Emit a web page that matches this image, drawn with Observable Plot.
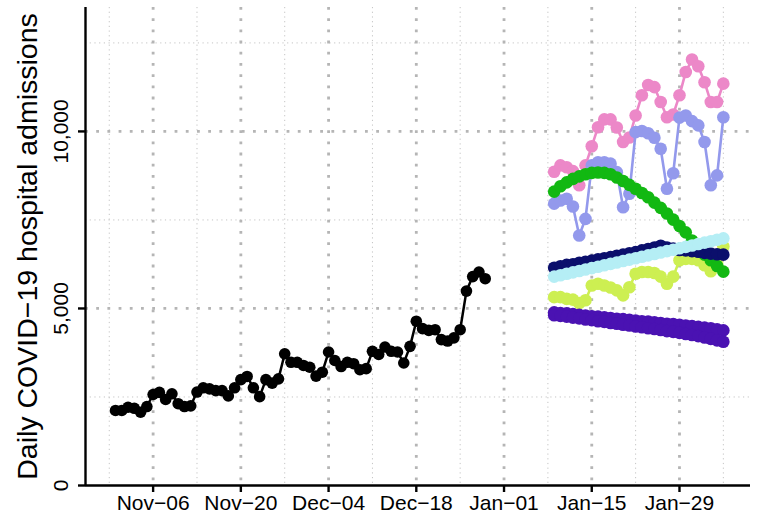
<!DOCTYPE html>
<html>
<head>
<meta charset="utf-8">
<script src="https://cdn.jsdelivr.net/npm/d3@7"></script>
<script src="https://cdn.jsdelivr.net/npm/@observablehq/plot@0.6"></script>
<style>
  body { margin: 0; background: #fff; }
  #chart svg { font-family: "Liberation Sans", Arial, Helvetica, sans-serif; }
</style>
</head>
<body>
<div id="chart"></div>
<script>
// ---------- data ----------
const observedStart = "2020-10-31";
const observed = [
  2120, 2120, 2210, 2180, 2070, 2230, 2570, 2630, 2430, 2590,
  2310, 2230, 2250, 2640, 2760, 2730, 2680, 2680, 2530, 2760,
  2990, 3080, 2760, 2510, 2990, 2890, 3010, 3720, 3480, 3480,
  3390, 3340, 3090, 3200, 3770, 3530, 3360, 3480, 3440, 3270,
  3300, 3790, 3700, 3910, 3790, 3770, 3460, 3930, 4640, 4430,
  4380, 4400, 4120, 4080, 4170, 4400, 5490, 5900, 6030, 5840
];

const forecastStart = "2021-01-09";
const fcYellow = [
  5320, 5320, 5270, 5250, 5150, 5230, 5650, 5700, 5650, 5590,
  5510, 5370, 5600, 5980, 6030, 6030, 6000, 5900, 5700, 5900,
  6360, 6400, 6400, 6360, 6220, 6050, 6260, 6750
];
const fcPink = [
  8860, 9040, 8990, 8880, 8480, 9040, 9580, 10120, 10340, 10340,
  10110, 9700, 9830, 10450, 11020, 11310, 11250, 10830, 10400, 10480,
  11020, 11680, 12030, 11840, 11390, 10830, 10830, 11350
];
const fcPeriwinkle = [
  7960, 8050, 8100, 7880, 7060, 7530, 9040, 9130, 9130, 9090,
  8850, 7860, 8240, 9980, 10010, 9950, 9820, 9510, 8380, 8820,
  10390, 10450, 10290, 10170, 9700, 8480, 8760, 10400
];
const fcGreen = [
  8300, 8450, 8560, 8660, 8730, 8790, 8830, 8840, 8830, 8790,
  8700, 8600, 8490, 8380, 8260, 8140, 7990, 7840, 7680, 7510,
  7330, 7150, 6920, 6720, 6520, 6360, 6200, 6040
];
const fcNavy = [
  6150, 6190, 6230, 6250, 6290, 6320, 6350, 6390, 6420, 6450,
  6490, 6520, 6560, 6590, 6640, 6680, 6720, 6770, 6720, 6690,
  6650, 6640, 6620, 6600, 6570, 6550, 6530, 6520
];
const fcCyan = [
  5900, 5940, 5980, 6020, 6060, 6100, 6140, 6180, 6220, 6260,
  6300, 6340, 6380, 6420, 6460, 6500, 6540, 6580, 6620, 6660,
  6700, 6740, 6780, 6820, 6860, 6900, 6940, 6980
];
const fcPurpleA = [
  4890, 4870, 4860, 4840, 4820, 4800, 4780, 4770, 4750, 4730,
  4710, 4700, 4680, 4660, 4640, 4630, 4610, 4590, 4570, 4560,
  4540, 4520, 4500, 4480, 4460, 4440, 4410, 4380
];
const fcPurpleB = [
  4810, 4790, 4770, 4740, 4720, 4690, 4670, 4640, 4620, 4590,
  4570, 4540, 4520, 4490, 4470, 4440, 4420, 4390, 4360, 4340,
  4310, 4280, 4250, 4220, 4180, 4140, 4100, 4060
];

const xTickDates = ["2020-11-06","2020-11-20","2020-12-04","2020-12-18","2021-01-01","2021-01-15","2021-01-29"];
const xMinorDates = ["2020-10-30","2020-11-13","2020-11-27","2020-12-11","2020-12-25","2021-01-08","2021-01-22","2021-02-05"];
const yTicks = [0, 5000, 10000];
const yMajorGrid = [5000, 10000];
const yMinorGrid = [2500, 7500, 12500];
const xDomain = ["2020-10-26T05:00Z", "2021-02-09T08:00Z"];
const yDomain = [0, 13500];
const yTitle = "Daily COVID\u221219 hospital admissions";

// ---------- build tables ----------
const day = (start, i) => d3.utcDay.offset(new Date(start + "T00:00Z"), i);
const obsData = observed.map((v, i) => ({date: day(observedStart, i), value: v}));

const seriesList = [
  {name: "yellow", values: fcYellow, color: "#cdef52"},
  {name: "pink", values: fcPink, color: "#ec88c8"},
  {name: "periwinkle", values: fcPeriwinkle, color: "#9399ec"},
  {name: "green", values: fcGreen, color: "#12b812"},
  {name: "navy", values: fcNavy, color: "#0b0f6c"},
  {name: "cyan", values: fcCyan, color: "#b5eef5"},
  {name: "purpleA", values: fcPurpleA, color: "#4a12b2"},
  {name: "purpleB", values: fcPurpleB, color: "#4a12b2"}
];
const fcMarks = [];
for (const s of seriesList) {
  const data = s.values.map((v, i) => ({date: day(forecastStart, i), value: v}));
  fcMarks.push(Plot.line(data, {x: "date", y: "value", stroke: s.color, strokeWidth: 2.6}));
  fcMarks.push(Plot.dot(data, {x: "date", y: "value", fill: s.color, r: 6.3}));
}

const fmt = d3.utcFormat("%b-%d");
const toDate = s => new Date(s + "T00:00Z");

const chart = Plot.plot({
  width: 765,
  height: 523,
  marginLeft: 85,
  marginRight: 15,
  marginTop: 7,
  marginBottom: 38,
  style: {background: "#fff", overflow: "visible"},
  x: {type: "utc", domain: xDomain.map(d => new Date(d))},
  y: {domain: yDomain},
  marks: [
    // grid
    Plot.ruleY(yMinorGrid, {stroke: "#c4c4c4", strokeWidth: 1, strokeDasharray: "1.2,3.5"}),
    Plot.ruleX(xMinorDates.map(toDate), {stroke: "#c4c4c4", strokeWidth: 1, strokeDasharray: "1.2,3.5"}),
    Plot.ruleY(yMajorGrid, {stroke: "#b5b5b5", strokeWidth: 2.8, strokeDasharray: "2.8,8.4"}),
    Plot.ruleX(xTickDates.map(toDate), {stroke: "#b5b5b5", strokeWidth: 2.8, strokeDasharray: "2.8,8.4"}),
    // observed
    Plot.line(obsData, {x: "date", y: "value", stroke: "black", strokeWidth: 2.5}),
    Plot.dot(obsData, {x: "date", y: "value", fill: "black", r: 5.8}),
    // forecasts
    ...fcMarks,
    // axes
    Plot.ruleY([0], {stroke: "black", strokeWidth: 2.4}),
    Plot.ruleX([new Date(xDomain[0])], {stroke: "black", strokeWidth: 2.4}),
    Plot.axisX(xTickDates.map(toDate), {
      tickSize: 7, tickPadding: 3, fontSize: 21, stroke: "black", strokeWidth: 2.4,
      tickFormat: d => fmt(d).replace("-", "\u2212"), label: null, fill: "black"
    }),
    Plot.axisY(yTicks, {tickSize: 7, strokeWidth: 2.4, stroke: "black", tickFormat: () => "", label: null}),
    Plot.text(yTicks, {
      y: d => d, frameAnchor: "left", dx: -24, rotate: -90,
      text: d => d3.format(",")(d), fontSize: 21, fill: "black", textAnchor: "middle", lineAnchor: "middle"
    }),
    Plot.text([yTitle], {
      frameAnchor: "left", dx: -58, rotate: -90, text: d => d,
      fontSize: 28.5, fill: "black", textAnchor: "middle", lineAnchor: "middle"
    })
  ]
});
document.getElementById("chart").appendChild(chart);
</script>
</body>
</html>
